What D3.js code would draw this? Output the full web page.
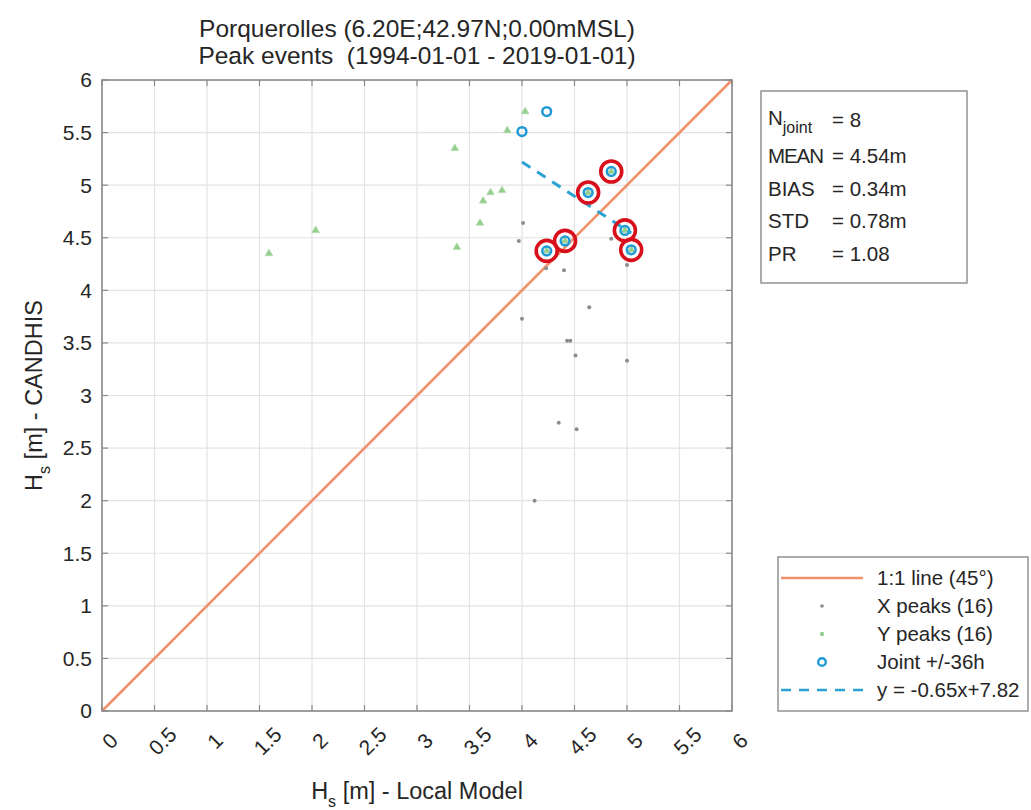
<!DOCTYPE html>
<html><head><meta charset="utf-8">
<script src="https://cdn.jsdelivr.net/npm/d3@7"></script>
<style>
body{margin:0;background:#fff;}
text{font-family:"Liberation Sans",Arial,sans-serif;fill:#262626;white-space:pre;}
</style></head><body>
<svg id="chart" width="1031" height="810"></svg>
<script>
// ---- data ----
const titleLines = ["Porquerolles (6.20E;42.97N;0.00mMSL)", "Peak events  (1994-01-01 - 2019-01-01)"];
const xTicks = [0,0.5,1,1.5,2,2.5,3,3.5,4,4.5,5,5.5,6];
const yTicks = [0,0.5,1,1.5,2,2.5,3,3.5,4,4.5,5,5.5,6];
const xTickLabels = ["0","0.5","1","1.5","2","2.5","3","3.5","4","4.5","5","5.5","6"];
const yTickLabels = ["0","0.5","1","1.5","2","2.5","3","3.5","4","4.5","5","5.5","6"];
// X peaks (gray dots)
const xPeaksX = [4.01,4.85,5.00,4.23,4.40,4.00,4.64,4.43,4.46,4.51,5.00,4.35,4.52,4.12,3.97];
const xPeaksY = [4.64,4.49,4.24,4.21,4.19,3.73,3.84,3.52,3.52,3.38,3.33,2.74,2.68,2.00,4.47];
// Y peaks (green triangles)
const yPeaksX = [4.03,3.86,3.36,3.81,3.70,3.63,3.60,3.38,1.59,2.035,4.85,4.63,4.98,5.04,4.41,4.235];
const yPeaksY = [5.70,5.52,5.35,4.95,4.93,4.85,4.64,4.41,4.35,4.57,5.13,4.93,4.57,4.385,4.47,4.375];
// Joint peaks (blue circles)
const jointX = [4.235,4.00,4.85,4.63,4.98,5.04,4.41,4.235];
const jointY = [5.70,5.51,5.13,4.93,4.57,4.385,4.47,4.375];
const jointHighlighted = [false,false,true,true,true,true,true,true];
const fitSlope = -0.65, fitIntercept = 7.82;
const statNames = ["MEAN","BIAS","STD","PR"];
const statValues = ["= 4.54m","= 0.34m","= 0.78m","= 1.08"];
const nJoint = "= 8";
const legendLabels = ["1:1 line (45\u00B0)","X peaks (16)","Y peaks (16)","Joint +/-36h","y = -0.65x+7.82"];

// ---- layout ----
const svg = d3.select("#chart");
const L = 102, R = 732, T = 80, B = 711;
const x = d3.scaleLinear().domain([0,6]).range([L,R]);
const y = d3.scaleLinear().domain([0,6]).range([B,T]);
const col = {text:"#262626", grid:"#e3e3e3", axis:"#8a8a8a", one:"#f0916b", gray:"#8c8c8c", green:"#95cf8f", blue:"#1f9ad6", fit:"#2aa3d4", red:"#d8101c"};

svg.append("rect").attr("width",1031).attr("height",810).attr("fill","#fff");

// grid
const g = svg.append("g");
g.selectAll(".gx").data(xTicks).join("line")
  .attr("x1",d=>x(d)).attr("x2",d=>x(d)).attr("y1",T).attr("y2",B)
  .attr("stroke",col.grid).attr("stroke-width",1.2);
g.selectAll(".gy").data(yTicks).join("line")
  .attr("y1",d=>y(d)).attr("y2",d=>y(d)).attr("x1",L).attr("x2",R)
  .attr("stroke",col.grid).attr("stroke-width",1.2);

// 1:1 line
svg.append("line").attr("x1",x(0)).attr("y1",y(0)).attr("x2",x(6)).attr("y2",y(6))
  .attr("stroke",col.one).attr("stroke-width",2.6);

// X peaks
svg.append("g").selectAll("circle").data(xPeaksX.map((v,i)=>[v,xPeaksY[i]])).join("circle")
  .attr("cx",d=>x(d[0])).attr("cy",d=>y(d[1])).attr("r",2).attr("fill",col.gray);

// Y peaks (small triangles)
const tri = d3.symbol().type(d3.symbolTriangle).size(24);
svg.append("g").selectAll("path").data(yPeaksX.map((v,i)=>[v,yPeaksY[i]])).join("path")
  .attr("d",tri).attr("transform",d=>`translate(${x(d[0])},${y(d[1])})`)
  .attr("fill",col.green).attr("stroke","#acd9a6").attr("stroke-width",0.8);

// Joint circles
svg.append("g").selectAll("circle").data(jointX.map((v,i)=>[v,jointY[i]])).join("circle")
  .attr("cx",d=>x(d[0])).attr("cy",d=>y(d[1])).attr("r",4.4)
  .attr("fill","none").attr("stroke",col.blue).attr("stroke-width",2.5);

// Fit line
const fx = d3.extent(jointX);
svg.append("line").attr("x1",x(fx[0])).attr("y1",y(fitSlope*fx[0]+fitIntercept))
  .attr("x2",x(fx[1])).attr("y2",y(fitSlope*fx[1]+fitIntercept))
  .attr("stroke",col.fit).attr("stroke-width",3).attr("stroke-dasharray","10,8");

// Red highlight circles
svg.append("g").selectAll("circle").data(jointX.map((v,i)=>[v,jointY[i],jointHighlighted[i]]).filter(d=>d[2])).join("circle")
  .attr("cx",d=>x(d[0])).attr("cy",d=>y(d[1])).attr("r",10.5)
  .attr("fill","none").attr("stroke",col.red).attr("stroke-width",3.6);

// axes box
svg.append("rect").attr("x",L).attr("y",T).attr("width",R-L).attr("height",B-T)
  .attr("fill","none").attr("stroke",col.axis).attr("stroke-width",1.6);
// ticks inward on all sides
const tk = 6;
const tg = svg.append("g").attr("stroke",col.axis).attr("stroke-width",1.2);
xTicks.forEach(d=>{
  tg.append("line").attr("x1",x(d)).attr("x2",x(d)).attr("y1",B).attr("y2",B-tk);
  tg.append("line").attr("x1",x(d)).attr("x2",x(d)).attr("y1",T).attr("y2",T+tk);
});
yTicks.forEach(d=>{
  tg.append("line").attr("y1",y(d)).attr("y2",y(d)).attr("x1",L).attr("x2",L+tk);
  tg.append("line").attr("y1",y(d)).attr("y2",y(d)).attr("x1",R).attr("x2",R-tk);
});

// tick labels
const fs = 21;
svg.append("g").selectAll("text").data(yTicks).join("text")
  .attr("x",L-10).attr("y",d=>y(d)).attr("dy","0.35em").attr("text-anchor","end")
  .attr("font-size",fs).text((d,i)=>yTickLabels[i]);
svg.append("g").selectAll("text").data(xTicks).join("text")
  .attr("transform",d=>`translate(${x(d)+8},${B+30}) rotate(-45)`)
  .attr("text-anchor","middle").attr("dy","0.35em")
  .attr("font-size",fs).text((d,i)=>xTickLabels[i]);

// titles
titleLines.forEach((t,i)=>{
  svg.append("text").attr("x",(L+R)/2).attr("y",37+i*27).attr("text-anchor","middle")
    .attr("font-size",24.5).text(t);
});

// axis labels
const xl = svg.append("text").attr("x",(L+R)/2).attr("y",799).attr("text-anchor","middle").attr("font-size",23.5);
xl.append("tspan").text("H");
xl.append("tspan").attr("font-size",16).attr("dy",8).text("s");
xl.append("tspan").attr("dy",-8).text(" [m] - Local Model");
const yl = svg.append("text").attr("transform",`translate(42,${(T+B)/2}) rotate(-90)`).attr("text-anchor","middle").attr("font-size",23.5);
yl.append("tspan").text("H");
yl.append("tspan").attr("font-size",16).attr("dy",8).text("s");
yl.append("tspan").attr("dy",-8).text(" [m] - CANDHIS");

// stats box
svg.append("rect").attr("x",761).attr("y",91).attr("width",206).attr("height",192)
  .attr("fill","#fff").attr("stroke","#8a8a8a").attr("stroke-width",1.4);
const sfs = 20.5;
const nt = svg.append("text").attr("x",768).attr("y",125).attr("font-size",sfs);
nt.append("tspan").text("N");
nt.append("tspan").attr("font-size",16).attr("dy",8).text("joint");
svg.append("text").attr("x",832).attr("y",127).attr("font-size",sfs).text(nJoint);
statNames.forEach((s,i)=>{
  svg.append("text").attr("x",768).attr("y",163+i*32.5).attr("font-size",sfs).attr("textLength",s==="MEAN"?56:null).text(s);
  svg.append("text").attr("x",832).attr("y",163+i*32.5).attr("font-size",sfs).text(statValues[i]);
});

// legend
svg.append("rect").attr("x",778).attr("y",557).attr("width",250).attr("height",154)
  .attr("fill","#fff").attr("stroke","#8a8a8a").attr("stroke-width",1.4);
const ly = [578,606,634,662,690];
const lfs = 20.5;
legendLabels.forEach((t,i)=>{
  svg.append("text").attr("x",877).attr("y",ly[i]).attr("dy","0.35em").attr("font-size",lfs).text(t);
});
svg.append("line").attr("x1",781).attr("x2",863).attr("y1",ly[0]).attr("y2",ly[0]).attr("stroke",col.one).attr("stroke-width",2.6);
svg.append("circle").attr("cx",822).attr("cy",ly[1]).attr("r",1.8).attr("fill",col.gray);
svg.append("circle").attr("cx",822).attr("cy",ly[2]).attr("r",2.2).attr("fill",col.green);
svg.append("circle").attr("cx",822).attr("cy",ly[3]).attr("r",3.8).attr("fill","none").attr("stroke",col.blue).attr("stroke-width",2.4);
svg.append("line").attr("x1",781).attr("x2",871).attr("y1",ly[4]).attr("y2",ly[4]).attr("stroke",col.fit).attr("stroke-width",2.6).attr("stroke-dasharray","10,8");
</script></body></html>
